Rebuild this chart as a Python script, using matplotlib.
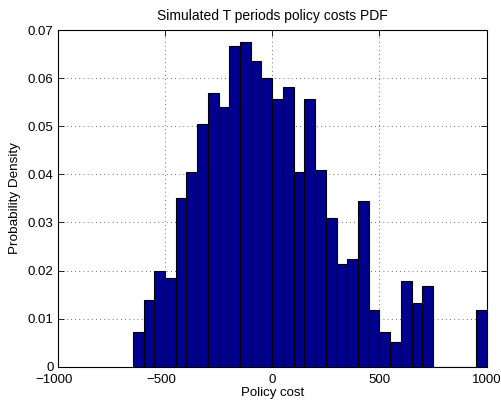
import numpy as np
import matplotlib
matplotlib.use("Agg")
import matplotlib.pyplot as plt
from matplotlib.transforms import ScaledTranslation

plt.rcParams['font.family'] = ['Liberation Sans', 'DejaVu Sans']

# Histogram data (bin left edges, width 50)
bin_left = np.arange(-650, 1000, 50)
density = [0.0073, 0.0139, 0.0200, 0.0185, 0.0350, 0.0404, 0.0505, 0.0570,
           0.0540, 0.0666, 0.0675, 0.0636, 0.0601, 0.0556, 0.0581, 0.0404,
           0.0556, 0.0409, 0.0309, 0.0213, 0.0223, 0.0345, 0.0118, 0.0073,
           0.0052, 0.0179, 0.0133, 0.0168, 0.0, 0.0, 0.0, 0.0, 0.0118]
bin_width = 50

xticks = [-1000, -500, 0, 500, 1000]
yticks = [0, 0.01, 0.02, 0.03, 0.04, 0.05, 0.06, 0.07]

fig = plt.figure(figsize=(5.01, 4.04), dpi=100)
ax = fig.add_axes([0.1152, 0.0923, 0.8562, 0.8334])

ax.bar(bin_left, density, width=bin_width, align='edge',
       color='#00008F', edgecolor='black', linewidth=0.8, zorder=3)

ax.set_xlim(-1000, 1000)
ax.set_ylim(0, 0.07)
ax.set_xticks(xticks)
ax.set_xticklabels([str(t).replace('-', '\u2212') for t in xticks])
ax.set_yticks(yticks)
ax.set_yticklabels(['0'] + ['%.2f' % t for t in yticks[1:]])

ax.grid(True, linestyle=(0, (1, 4)), color='#444444', linewidth=0.6, zorder=0)
ax.tick_params(direction='in', top=True, right=True, labelsize=9.5,
               length=4, width=0.6)
ax.tick_params(axis='x', pad=5)
ax.tick_params(axis='y', pad=3)
for s in ax.spines.values():
    s.set_linewidth(0.8)

# negative labels sit a little left of their ticks in the original
shift = ScaledTranslation(-0.035, 0, fig.dpi_scale_trans)
for t, lab in zip(xticks, ax.get_xticklabels()):
    if t < 0:
        lab.set_transform(lab.get_transform() + shift)

ax.set_title('Simulated T periods policy costs PDF', fontsize=10, pad=7)
ax.set_xlabel('Policy cost', fontsize=9.5, labelpad=1)
ax.set_ylabel('Probability Density', fontsize=9.7, labelpad=5)

fig.savefig('out.png', dpi=100)
